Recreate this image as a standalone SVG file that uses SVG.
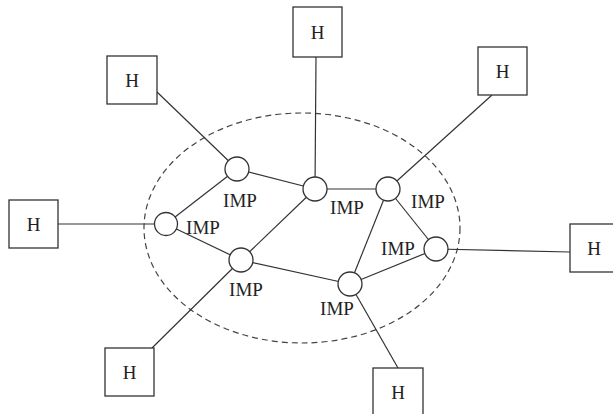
<svg xmlns="http://www.w3.org/2000/svg" width="613" height="414" viewBox="0 0 613 414">
<style>
.ln{stroke:#333;stroke-width:1.2;fill:none}
.box{fill:#fff;stroke:#333;stroke-width:1.3}
.imp{fill:#fff;stroke:#333;stroke-width:1.3}
.t{font-family:"Liberation Serif",serif;font-size:19px;fill:#222;text-anchor:middle}
.d{fill:none;stroke:#444;stroke-width:1.2;stroke-dasharray:6 4}
</style>
<rect width="613" height="414" fill="#fff"/>
<ellipse class="d" cx="302" cy="228" rx="158" ry="115"/>
<g id="connectors">
<line class="ln" x1="157" y1="92" x2="237" y2="169"/>
<line class="ln" x1="316" y1="57" x2="315" y2="189"/>
<line class="ln" x1="492" y1="95" x2="388" y2="189"/>
<line class="ln" x1="58" y1="224" x2="166" y2="224"/>
<line class="ln" x1="570" y1="252" x2="436" y2="249"/>
<line class="ln" x1="152" y1="348" x2="241" y2="260"/>
<line class="ln" x1="398" y1="368" x2="350" y2="284"/>
<line class="ln" x1="237" y1="169" x2="166" y2="224"/>
<line class="ln" x1="237" y1="169" x2="315" y2="189"/>
<line class="ln" x1="166" y1="224" x2="241" y2="260"/>
<line class="ln" x1="315" y1="189" x2="388" y2="189"/>
<line class="ln" x1="315" y1="189" x2="241" y2="260"/>
<line class="ln" x1="388" y1="189" x2="436" y2="249"/>
<line class="ln" x1="388" y1="189" x2="350" y2="284"/>
<line class="ln" x1="436" y1="249" x2="350" y2="284"/>
<line class="ln" x1="241" y1="260" x2="350" y2="284"/>
</g>
<g id="h-top"><rect class="box" x="293" y="7" width="49" height="50"/><text class="t" x="317.5" y="39">H</text></g>
<g id="h-topleft"><rect class="box" x="107" y="56" width="50" height="48"/><text class="t" x="132" y="87">H</text></g>
<g id="h-topright"><rect class="box" x="478" y="47" width="49" height="48"/><text class="t" x="502.5" y="78">H</text></g>
<g id="h-left"><rect class="box" x="9" y="200" width="49" height="48"/><text class="t" x="33.5" y="231">H</text></g>
<g id="h-right"><rect class="box" x="570" y="224" width="48" height="48"/><text class="t" x="594" y="255">H</text></g>
<g id="h-bottomleft"><rect class="box" x="105" y="348" width="49" height="48"/><text class="t" x="129.5" y="379">H</text></g>
<g id="h-bottomright"><rect class="box" x="373" y="368" width="50" height="48"/><text class="t" x="398" y="399">H</text></g>
<g id="imp1"><circle class="imp" cx="237" cy="169" r="12"/><text class="t" x="240" y="207">IMP</text></g>
<g id="imp2"><circle class="imp" cx="166" cy="224" r="11.5"/><text class="t" x="203" y="234">IMP</text></g>
<g id="imp3"><circle class="imp" cx="315" cy="189" r="12"/><text class="t" x="347" y="214">IMP</text></g>
<g id="imp4"><circle class="imp" cx="388" cy="189" r="12"/><text class="t" x="428" y="208">IMP</text></g>
<g id="imp5"><circle class="imp" cx="436" cy="249" r="12"/><text class="t" x="398" y="255">IMP</text></g>
<g id="imp6"><circle class="imp" cx="350" cy="284" r="12"/><text class="t" x="337" y="315">IMP</text></g>
<g id="imp7"><circle class="imp" cx="241" cy="260" r="12"/><text class="t" x="246" y="296">IMP</text></g>
</svg>
